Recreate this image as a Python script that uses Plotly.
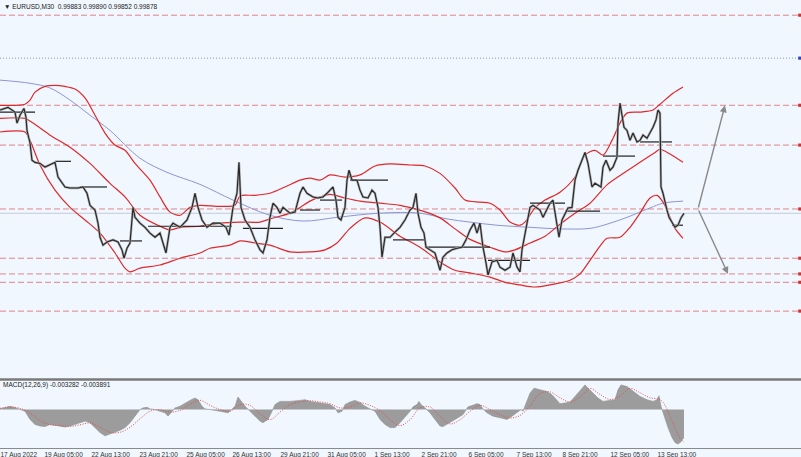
import plotly.graph_objects as go

# ---------------- data ----------------
# x positions along the time axis (chart columns), prices in EURUSD
price_x = [0,8,15,17,20,24,26,27,30,32,35,40,45,50,55,58,62,65,70,78,83,87,90,95,98,100,103,107,113,118,
           122,124,127,130,133,135,140,145,150,155,160,163,166,170,173,180,187,192,195,198,202,207,213,220,226,
           229,233,237,239,241,245,250,255,260,263,267,270,273,277,280,283,290,295,300,303,307,313,318,323,327,
           333,336,338,341,345,347,349,352,357,360,363,368,372,375,378,380,382,385,390,395,400,405,410,413,416,
           418,421,424,426,430,435,440,443,447,452,457,462,466,470,474,477,480,483,486,488,492,497,500,505,510,
           513,517,520,522,525,527,530,533,537,540,543,547,550,553,555,557,559,562,565,568,572,575,578,582,585,
           588,590,592,595,598,601,603,606,610,613,617,618,620,622,624,627,630,633,637,640,643,647,650,653,656,
           658,660,661,663,665,667,669,672,675,678,681,684]
price_y = [1.0185,1.0190,1.0181,1.0160,1.0175,1.0188,1.0171,1.0146,1.0122,1.0089,1.0085,1.0083,1.0076,1.0080,1.0085,
           1.0057,1.0047,1.0038,1.0036,1.0036,1.0038,1.0026,1.0003,0.9994,0.9969,0.9942,0.9927,0.9933,0.9937,0.9933,
           0.9918,0.9902,0.9921,0.9931,0.9999,0.9980,0.9969,0.9961,0.9950,0.9942,0.9950,0.9931,0.9912,0.9961,0.9969,
           0.9961,0.9975,0.9999,1.0026,0.9999,0.9975,0.9961,0.9969,0.9969,0.9961,0.9946,0.9999,1.0026,1.0085,0.9999,
           0.9975,0.9961,0.9937,0.9918,0.9912,0.9937,0.9980,1.0007,0.9999,0.9988,0.9999,0.9988,0.9990,1.0026,1.0038,
           1.0026,1.0019,1.0017,1.0019,1.0026,1.0038,1.0013,0.9980,0.9975,0.9999,1.0051,1.0070,1.0051,1.0051,1.0032,
           1.0019,1.0017,1.0032,1.0026,0.9999,0.9961,0.9904,0.9942,0.9942,0.9952,0.9961,0.9975,0.9994,0.9999,1.0026,
           0.9988,0.9961,0.9950,0.9923,0.9918,0.9912,0.9879,0.9904,0.9912,0.9918,0.9921,0.9923,0.9937,0.9956,0.9969,
           0.9950,0.9969,0.9923,0.9893,0.9870,0.9895,0.9898,0.9885,0.9879,0.9885,0.9912,0.9885,0.9876,0.9918,0.9950,
           0.9975,0.9999,1.0003,0.9998,0.9994,0.9980,0.9994,1.0007,1.0013,0.9988,0.9961,0.9942,0.9975,0.9988,0.9998,
           0.9999,1.0051,1.0070,1.0089,1.0104,1.0083,1.0064,1.0038,1.0045,1.0042,1.0038,1.0076,1.0089,1.0070,1.0076,
           1.0095,1.0160,1.0198,1.0171,1.0152,1.0146,1.0127,1.0141,1.0124,1.0127,1.0137,1.0131,1.0141,1.0152,1.0166,
           1.0185,1.0179,1.0038,1.0026,1.0007,0.9994,0.9980,0.9969,0.9961,0.9965,0.9979,0.99878]

bb_upper_x = [0,25,30,35,45,55,65,75,85,95,105,115,125,135,150,160,170,180,190,200,220,235,240,255,270,285,300,
              310,320,330,345,360,375,390,410,425,440,455,465,480,490,500,510,520,525,535,545,560,575,585,595,603,
              612,620,627,640,653,660,673,683]
bb_upper_y = [1.0194,1.0196,1.0204,1.0219,1.0230,1.0232,1.0230,1.0225,1.0208,1.0175,1.0141,1.0118,1.0108,1.0083,
              1.0051,1.0019,0.9990,0.9984,0.9999,1.0003,1.0001,1.0003,1.0021,1.0022,1.0026,1.0038,1.0051,1.0055,
              1.0051,1.0061,1.0057,1.0061,1.0078,1.0082,1.0080,1.0078,1.0064,1.0036,1.0013,1.0009,1.0007,0.9994,
              0.9971,0.9965,0.9971,0.9998,1.0013,1.0028,1.0057,1.0099,1.0108,1.0099,1.0127,1.0160,1.0179,1.0181,
              1.0185,1.0196,1.0217,1.0229]

bb_mid_x = [0,25,33,50,70,90,110,125,140,160,170,180,200,220,240,260,270,290,300,310,320,330,345,360,380,400,
            423,440,455,470,490,505,515,530,545,560,575,590,607,625,640,655,660,670,683]
bb_mid_y = [1.0169,1.0169,1.0160,1.0137,1.0114,1.0083,1.0045,1.0019,0.9984,0.9963,0.9956,0.9961,0.9963,0.9969,
            0.9971,0.9971,0.9977,0.9988,0.9999,1.0011,1.0019,1.0024,1.0017,1.0011,1.0007,1.0003,0.9992,0.9979,
            0.9958,0.9938,0.9923,0.9914,0.9918,0.9931,0.9944,0.9967,0.9988,1.0007,1.0042,1.0066,1.0085,1.0104,
            1.0110,1.0101,1.0085]

bb_lower_x = [0,25,30,40,55,70,85,100,115,125,130,140,160,180,200,210,230,240,255,270,290,310,325,337,350,365,
              380,400,420,440,455,470,490,505,520,535,555,570,580,590,600,607,620,630,640,650,657,663,667,675,683]
bb_lower_y = [1.0143,1.0143,1.0127,1.0080,1.0032,0.9999,0.9975,0.9950,0.9912,0.9883,0.9876,0.9883,0.9889,0.9902,
              0.9912,0.9921,0.9927,0.9935,0.9931,0.9927,0.9914,0.9914,0.9918,0.9931,0.9959,0.9979,0.9971,0.9944,
              0.9923,0.9895,0.9879,0.9874,0.9866,0.9856,0.9851,0.9847,0.9853,0.9860,0.9872,0.9898,0.9925,0.9940,
              0.9942,0.9961,0.9988,1.0017,1.0022,1.0009,0.9994,0.9959,0.9940]

ma_x = [0,30,50,70,90,110,140,167,200,233,270,303,337,380,420,447,470,497,530,560,590,607,627,650,663,683]
ma_y = [1.0242,1.0236,1.0227,1.0204,1.0175,1.0146,1.0093,1.0066,1.0043,1.0013,0.9984,0.9973,0.9980,0.9988,
        0.9988,0.9977,0.9971,0.9965,0.9961,0.9958,0.9959,0.9967,0.9980,0.9998,1.0007,1.0011]

# short black horizontal levels: start, end, price
lvl_x0 = [0,55,80,120,148,243,300,320,350,393,427,488,530,565,603,640,672]
lvl_x1 = [35,71,107,142,232,283,320,342,388,425,490,530,565,600,635,672,683]
lvl_p  = [1.0181,1.0087,1.0038,0.9935,0.9963,0.9959,0.9994,1.0013,1.0051,0.9937,0.9923,0.9898,1.0007,0.9992,
          1.0097,1.0124,0.9965]

# horizontal support/resistance levels
dashed_levels = [1.0366,1.0194,1.0118,0.9996,0.9902,0.9872,0.9856,0.9801]
dotted_level = 1.0284
last_price = 0.99878

# projection arrows
proj_start_x, proj_start_p = 698, 0.9996
proj_up_x, proj_up_p = 725, 1.0194
proj_dn_x, proj_dn_p = 728, 0.9872

# MACD histogram (main) and signal
macd_x = [0,5,10,15,20,25,30,35,40,45,50,55,60,65,70,75,80,85,90,95,100,105,110,115,120,125,130,135,140,143,147,
          150,155,160,165,168,172,175,180,185,190,195,198,202,205,210,215,220,228,232,235,238,241,245,250,255,260,
          263,268,272,275,280,290,300,305,310,320,330,335,338,342,345,350,355,360,365,370,375,380,385,390,395,400,
          403,407,410,413,417,419,421,425,430,435,440,443,447,455,463,468,472,477,480,483,487,493,500,507,512,517,
          521,523,526,530,534,538,542,547,552,557,560,565,570,575,580,585,588,593,598,603,610,615,618,621,627,633,
          640,647,653,657,659,661,662,665,668,672,675,678,681,684]
macd_v = [0.08,0.27,0.39,0.23,0,-0.20,-1.17,-1.76,-1.95,-2.02,-1.76,-1.87,-2.02,-2.07,-1.95,-1.76,-1.56,-1.37,-1.56,
          -2.14,-2.73,-3.12,-2.93,-2.73,-2.46,-2.14,-1.56,-0.78,0,0.20,0.27,0.08,0,-0.20,-0.39,-0.78,-0.20,0.20,0.39,
          0.78,1.09,1.37,1.17,0.39,0.08,0,-0.08,-0.20,-0.39,0.08,0.39,1.49,0.97,0.39,-0.20,-0.78,-1.37,-1.56,-1.17,
          -0.20,0.59,0.97,0.97,1.09,1.17,0.97,0.78,0.59,0.20,-0.39,-0.20,0.59,0.90,1.09,0.85,0.39,0.08,-0.20,-1.17,
          -1.76,-2.14,-2.14,-1.56,-1.17,-0.59,-0.20,0.32,0.59,0.97,0.59,0.20,-0.39,-1.17,-1.95,-2.02,-1.76,-1.17,
          -0.59,0.32,0.47,0.70,0.59,0.08,-0.39,-0.78,-0.97,-1.17,-0.78,-0.39,0,-0.20,0.78,1.95,2.54,2.42,2.26,2.14,
          1.76,1.17,0.70,0.78,0.90,1.56,2.26,2.93,2.54,1.95,1.37,0.97,1.09,1.17,2.34,2.93,2.73,2.14,1.56,1.17,0.97,
          1.17,1.64,0.39,0,-0.97,-2.14,-3.31,-3.90,-4.10,-3.83,-3.282]
sig_x = [0,10,20,30,40,50,60,70,80,90,100,110,120,130,140,150,160,170,180,190,200,210,220,230,240,250,260,270,280,
         290,300,310,320,330,340,350,360,370,380,390,400,410,420,430,440,450,460,470,480,490,500,510,520,530,540,
         550,560,570,580,590,600,610,620,630,640,650,660,665,670,675,680,684]
sig_v = [0.15,0.30,0.15,-0.40,-1.30,-1.80,-1.90,-2.00,-1.80,-1.60,-2.10,-2.70,-2.70,-2.10,-1.10,-0.20,0.0,-0.30,
         -0.10,0.60,1.10,0.50,0.0,-0.20,0.60,0.50,-0.50,-1.20,-0.30,0.60,0.90,1.05,0.90,0.70,0.20,0.30,0.80,0.50,
         -0.10,-1.20,-1.90,-1.20,0.20,0.30,-0.80,-1.70,-1.20,-0.20,0.50,0.0,-0.60,-1.00,-0.70,0.40,1.90,2.10,1.40,
         0.90,1.50,2.50,1.80,1.20,1.60,2.50,2.00,1.40,1.20,0.50,-0.80,-2.20,-3.40,-3.891]

tick_pos = [0,44,91,139,186,232,280,327,374,421,468,516,562,610,657]
tick_txt = ["17 Aug 2022","19 Aug 05:00","22 Aug 13:00","23 Aug 21:00","25 Aug 05:00","26 Aug 13:00",
            "29 Aug 21:00","31 Aug 05:00","1 Sep 13:00","2 Sep 21:00","6 Sep 05:00","7 Sep 13:00",
            "8 Sep 21:00","12 Sep 05:00","13 Sep 13:00"]

header = "\u25bc EURUSD,M30  0.99883 0.99890 0.99852 0.99878"
macd_label = "MACD(12,26,9) -0.003282 -0.003891"

# ---------------- figure ----------------
W, H = 801, 457
BG = "#F0F7FE"
RED = "#E0282A"
DASH = "rgba(222,110,115,0.85)"
FONT = "Liberation Sans"

fig = go.Figure()

X_RANGE = [0, 801]
Y_MAIN = [0.96733, 1.0395]
Y_MACD = [-4.56, 3.39]

# horizontal levels
for p in dashed_levels:
    fig.add_trace(go.Scatter(x=X_RANGE, y=[p, p], mode="lines", xaxis="x", yaxis="y",
                             line=dict(color=DASH, width=1, dash="6px,3px"), hoverinfo="skip", showlegend=False))
fig.add_trace(go.Scatter(x=X_RANGE, y=[dotted_level]*2, mode="lines", xaxis="x", yaxis="y",
                         line=dict(color="#8C97BE", width=1, dash="1px,2px"), showlegend=False))
fig.add_trace(go.Scatter(x=X_RANGE, y=[last_price]*2, mode="lines", xaxis="x", yaxis="y",
                         line=dict(color="#C5CCD6", width=1), showlegend=False))

# moving average
fig.add_trace(go.Scatter(x=ma_x, y=ma_y, mode="lines", line=dict(color="#8F94D8", width=1, shape="spline"),
                         xaxis="x", yaxis="y", showlegend=False))
# bollinger bands
for bx, by in [(bb_upper_x, bb_upper_y), (bb_mid_x, bb_mid_y), (bb_lower_x, bb_lower_y)]:
    fig.add_trace(go.Scatter(x=bx, y=by, mode="lines", line=dict(color=RED, width=1.2, shape="spline", smoothing=0.8),
                             xaxis="x", yaxis="y", showlegend=False))

# black levels
for a, b, p in zip(lvl_x0, lvl_x1, lvl_p):
    fig.add_trace(go.Scatter(x=[a, b], y=[p, p], mode="lines", line=dict(color="#202020", width=1.2),
                             xaxis="x", yaxis="y", showlegend=False))

# price
fig.add_trace(go.Scatter(x=price_x, y=price_y, mode="lines", line=dict(color="#a8a8a8", width=2.4),
                         xaxis="x", yaxis="y", showlegend=False))
fig.add_trace(go.Scatter(x=price_x, y=price_y, mode="lines", line=dict(color="#262626", width=1.1),
                         xaxis="x", yaxis="y", showlegend=False))

# projection arrows
for ex, ep in [(proj_up_x, proj_up_p), (proj_dn_x, proj_dn_p)]:
    fig.add_annotation(x=ex, y=ep, ax=proj_start_x, ay=proj_start_p, xref="x", yref="y", axref="x", ayref="y",
                       showarrow=True, arrowhead=2, arrowsize=1, arrowwidth=1.4, arrowcolor="#8a8a8a", text="")

# MACD
fig.add_trace(go.Scatter(x=macd_x, y=macd_v, mode="lines", fill="tozeroy", fillcolor="#9c9c9c",
                         line=dict(color="#8f8f8f", width=0.6), xaxis="x2", yaxis="y2", showlegend=False))
fig.add_trace(go.Scatter(x=sig_x, y=sig_v, mode="lines", line=dict(color="#E05050", width=1, dash="1px,1.5px",
                         shape="spline"), xaxis="x2", yaxis="y2", showlegend=False))

# right-edge level markers
shapes = []
for p in dashed_levels:
    shapes.append(dict(type="rect", xref="paper", yref="y", x0=0.9965, x1=1.0, y0=p - 0.0003, y1=p + 0.0003,
                       fillcolor="#D23030", line=dict(width=0)))
shapes.append(dict(type="rect", xref="paper", yref="y", x0=0.9965, x1=1.0, y0=dotted_level - 0.0003,
                   y1=dotted_level + 0.0003, fillcolor="#3040C0", line=dict(width=0)))
# panel separator
sep_y = 1 - 379.5 / H
shapes.append(dict(type="line", xref="paper", yref="paper", x0=0, x1=1, y0=sep_y, y1=sep_y,
                   line=dict(color="#7a7a7a", width=2.5)))

fig.update_layout(
    width=W, height=H, margin=dict(l=0, r=0, t=0, b=0, pad=0, autoexpand=False),
    paper_bgcolor=BG, plot_bgcolor=BG, showlegend=False,
    xaxis=dict(domain=[0, 1], range=X_RANGE, showgrid=False, zeroline=False, showticklabels=False,
               anchor="y", automargin=False),
    yaxis=dict(domain=[1 - 378 / H, 1], range=Y_MAIN, showgrid=False, zeroline=False, showticklabels=False,
               automargin=False),
    xaxis2=dict(domain=[0, 1], range=X_RANGE, showgrid=False, zeroline=False, anchor="y2", automargin=False,
                tickvals=tick_pos, ticktext=tick_txt, ticks="", tickangle=0,
                ticklabelposition="outside right", ticklabelstandoff=0,
                tickfont=dict(family=FONT, size=6.5, color="#333"),
                showline=True, linecolor="#8a8a8a", linewidth=1),
    yaxis2=dict(domain=[1 - 448 / H, 1 - 381 / H], range=Y_MACD, showgrid=False, zeroline=False,
                showticklabels=False, automargin=False),
    shapes=shapes,
    font=dict(family=FONT),
)

fig.add_annotation(x=0.002, y=1 - 1 / H, xref="paper", yref="paper", text=header, showarrow=False,
                   xanchor="left", yanchor="top", font=dict(family=FONT, size=6.5, color="#222"))
fig.add_annotation(x=0.001, y=1 - 385 / H, xref="paper", yref="paper", text=macd_label, showarrow=False,
                   xanchor="left", yanchor="middle", font=dict(family=FONT, size=6.5, color="#222"))

fig.write_html("out.html", config={"displayModeBar": False},
               post_script="document.body.style.margin='0';document.body.style.overflow='hidden';")
